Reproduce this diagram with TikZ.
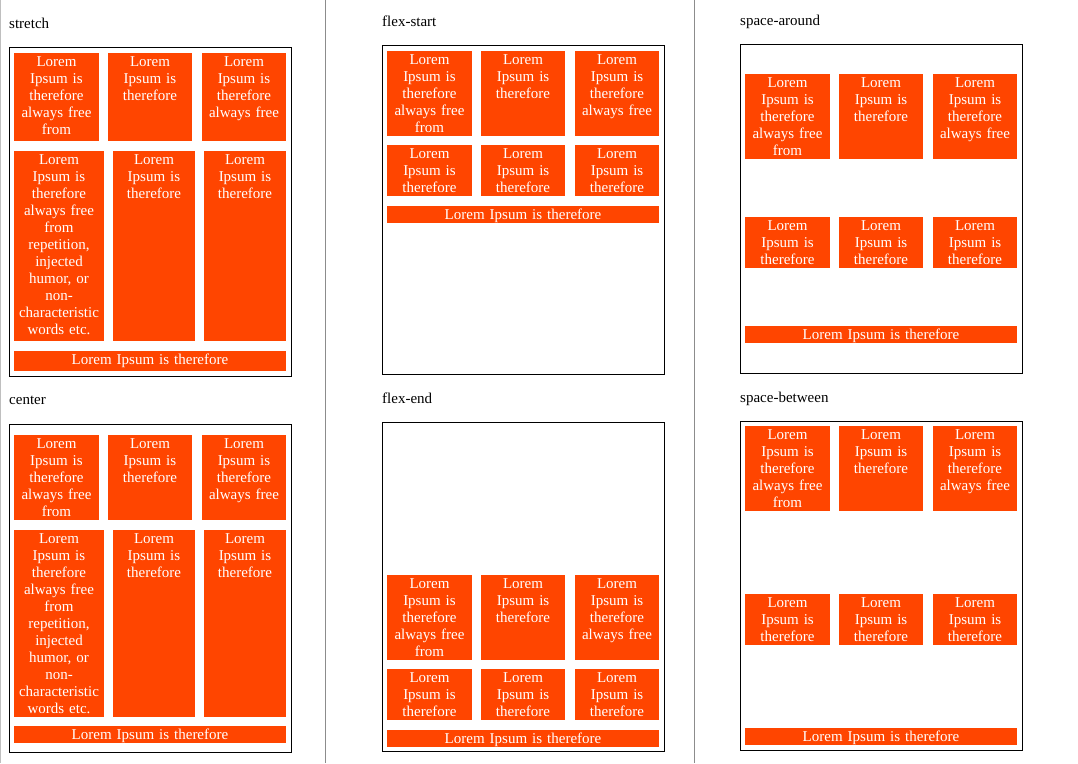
\documentclass[tikz,border=0pt]{standalone}
\usepackage{fontspec}
\setmainfont{Liberation Serif}
\definecolor{orng}{HTML}{FF4500}
\definecolor{sepgray}{HTML}{8C8C8C}
\tikzset{
  txt/.style={anchor=north, inner sep=0pt, outer sep=0pt, align=center, text=white,
    font=\fontsize{15}{17}\selectfont},
  ttl/.style={anchor=base west, inner sep=0pt, text=black, font=\fontsize{15}{17}\selectfont},
  panel/.style={draw=black, line width=1pt},
  sep/.style={draw=sepgray, line width=1pt}
}
\newcommand\bx[6]{%
  \fill[orng] (#2,#3) rectangle (#4,#5);
  \pgfmathsetmacro\bxw{#4-#2}%
  \node[txt, text width=\bxw pt] (#1) at ({(#2+#4)/2},#3) {\rule{0pt}{13.7pt}#6};%
}
\newcommand\tA{Lorem\\Ipsum is\\therefore\\always free\\from}
\newcommand\tB{Lorem\\Ipsum is\\therefore}
\newcommand\tC{Lorem\\Ipsum is\\therefore\\always free}
\newcommand\tD{Lorem\\Ipsum is\\therefore\\always free\\from\\repetition,\\injected\\humor, or\\non-\\characteristic\\words etc.}
\newcommand\tE{Lorem Ipsum is therefore}
\begin{document}
\begin{tikzpicture}[x=1pt,y=-1pt]
\useasboundingbox (0,0) rectangle (1078,763);
\fill[white] (0,0) rectangle (1078,763);
% separators
\coordinate (s0a) at (0.5,0); \coordinate (s0b) at (0.5,763);
\coordinate (s1a) at (325.5,0); \coordinate (s1b) at (325.5,763);
\coordinate (s2a) at (694.5,0); \coordinate (s2b) at (694.5,763);
\draw[draw=black!25, line width=1pt] (s0a) -- (s0b);
\draw[sep] (s1a) -- (s1b);
\draw[sep] (s2a) -- (s2b);

% titles
\node[ttl] (t1) at (9,28) {stretch};
\node[ttl] (t2) at (382,26) {flex-start};
\node[ttl] (t3) at (740,25) {space-around};
\node[ttl] (t4) at (9,404.7) {center};
\node[ttl] (t5) at (382,403) {flex-end};
\node[ttl] (t6) at (740,402) {space-between};

% panel 1: stretch
\draw[panel] (9.5,47.5) rectangle (291.5,376.5);
\bx{p1a}{14}{53}{99}{141}{\tA}
\bx{p1b}{108}{53}{192}{141}{\tB}
\bx{p1c}{202}{53}{286}{141}{\tC}
\bx{p1d}{14}{151}{104}{341}{\tD}
\bx{p1e}{113}{151}{195}{341}{\tB}
\bx{p1f}{204}{151}{286}{341}{\tB}
\bx{p1g}{14}{351}{286}{371}{\tE}

% panel 2: flex-start
\draw[panel] (382.5,45.5) rectangle (664.5,374.5);
\bx{p2a}{387}{51}{472}{136}{\tA}
\bx{p2b}{481}{51}{565}{136}{\tB}
\bx{p2c}{575}{51}{659}{136}{\tC}
\bx{p2d}{387}{145}{472}{196}{\tB}
\bx{p2e}{481}{145}{565}{196}{\tB}
\bx{p2f}{575}{145}{659}{196}{\tB}
\bx{p2g}{387}{206}{659}{223}{\tE}

% panel 3: space-around
\draw[panel] (740.5,44.5) rectangle (1022.5,373.5);
\bx{p3a}{745}{74}{830}{159}{\tA}
\bx{p3b}{839}{74}{923}{159}{\tB}
\bx{p3c}{933}{74}{1017}{159}{\tC}
\bx{p3d}{745}{217}{830}{268}{\tB}
\bx{p3e}{839}{217}{923}{268}{\tB}
\bx{p3f}{933}{217}{1017}{268}{\tB}
\bx{p3g}{745}{326}{1017}{343}{\tE}

% panel 4: center
\draw[panel] (9.5,424.5) rectangle (291.5,752.5);
\bx{p4a}{14}{435}{99}{519.7}{\tA}
\bx{p4b}{108}{435}{192}{519.7}{\tB}
\bx{p4c}{202}{435}{286}{519.7}{\tC}
\bx{p4d}{14}{530}{104}{716.7}{\tD}
\bx{p4e}{113}{530}{195}{716.7}{\tB}
\bx{p4f}{204}{530}{286}{716.7}{\tB}
\bx{p4g}{14}{726}{286}{743}{\tE}

% panel 5: flex-end
\draw[panel] (382.5,422.5) rectangle (664.5,751.5);
\bx{p5a}{387}{575}{472}{659.7}{\tA}
\bx{p5b}{481}{575}{565}{659.7}{\tB}
\bx{p5c}{575}{575}{659}{659.7}{\tC}
\bx{p5d}{387}{669}{472}{720}{\tB}
\bx{p5e}{481}{669}{565}{720}{\tB}
\bx{p5f}{575}{669}{659}{720}{\tB}
\bx{p5g}{387}{730}{659}{746.7}{\tE}

% panel 6: space-between
\draw[panel] (740.5,421.5) rectangle (1022.5,750);
\bx{p6a}{745}{426}{830}{510.7}{\tA}
\bx{p6b}{839}{426}{923}{510.7}{\tB}
\bx{p6c}{933}{426}{1017}{510.7}{\tC}
\bx{p6d}{745}{594}{830}{645}{\tB}
\bx{p6e}{839}{594}{923}{645}{\tB}
\bx{p6f}{933}{594}{1017}{645}{\tB}
\bx{p6g}{745}{728}{1017}{744.7}{\tE}
\end{tikzpicture}
\end{document}
